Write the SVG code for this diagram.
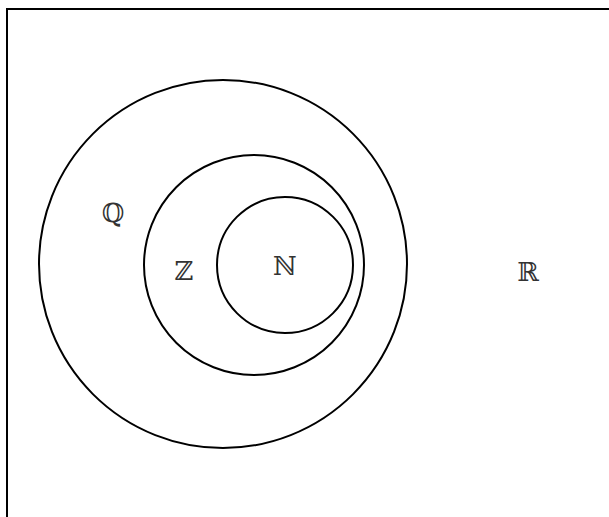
<svg xmlns="http://www.w3.org/2000/svg" width="609" height="517" viewBox="0 0 609 517">
<style>
.set{fill:none;stroke:#000;stroke-width:2}
.lbl{font-family:"DejaVu Serif","Liberation Serif",serif;font-size:26px;fill:#333;text-anchor:middle}
</style>
<rect width="609" height="517" fill="#fff"/>
<g id="universe">
<rect class="set" x="7" y="9" width="640" height="560"/>
<text class="lbl" x="528" y="281">ℝ</text>
</g>
<g id="Q">
<circle class="set" cx="223" cy="264" r="184"/>
<text class="lbl" x="113" y="222">ℚ</text>
</g>
<g id="Z">
<circle class="set" cx="254" cy="265" r="110"/>
<text class="lbl" x="184" y="280">ℤ</text>
</g>
<g id="N">
<circle class="set" cx="285" cy="265" r="68"/>
<text class="lbl" x="285" y="275">ℕ</text>
</g>
<g id="connectors"/>
</svg>
